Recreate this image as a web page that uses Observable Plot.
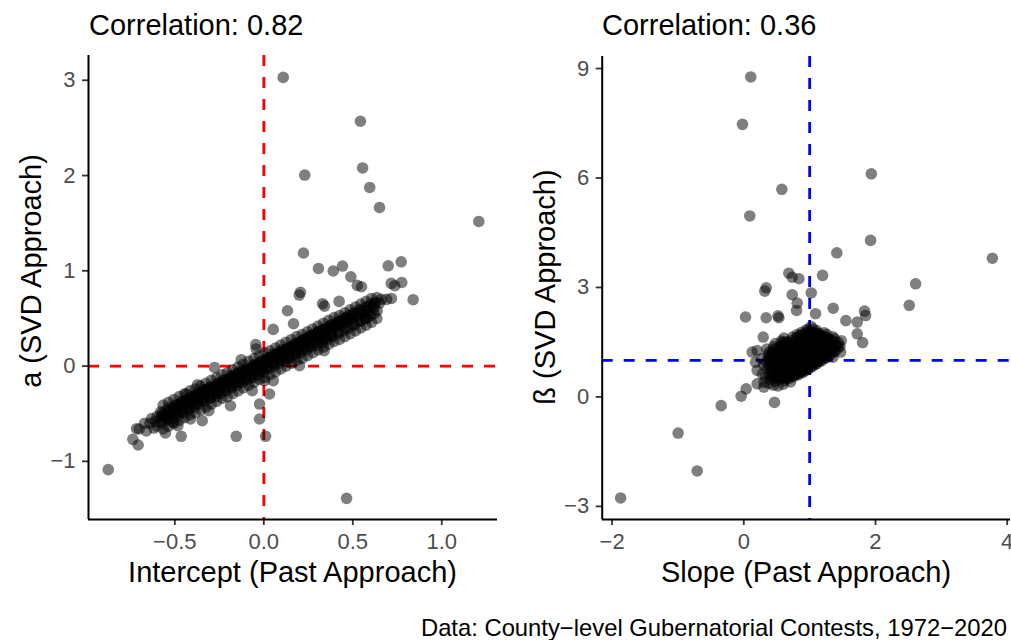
<!DOCTYPE html>
<html>
<head>
<meta charset="utf-8">
<script src="https://cdn.jsdelivr.net/npm/d3@7"></script>
<script src="https://cdn.jsdelivr.net/npm/@observablehq/plot@0.6"></script>
<style>
  html, body { margin: 0; padding: 0; background: #fff; }
  #root { position: relative; width: 1011px; height: 640px; overflow: hidden; font-family: "Liberation Sans", Arial, sans-serif; }
  .abs { position: absolute; white-space: nowrap; color: #000; line-height: 1; z-index: 5; }
  .panel { position: absolute; top: 40px; z-index: 1; }
  .panel svg { overflow: visible; }
</style>
</head>
<body>
<div id="root">
  <div class="panel" id="left" style="left:0px;"></div>
  <div class="panel" id="right" style="left:505px;"></div>
  <div class="abs" style="left:89px; top:11px; font-size:29px;">Correlation: 0.82</div>
  <div class="abs" style="left:602px; top:11px; font-size:29px;">Correlation: 0.36</div>
  <div class="abs" style="left:292.5px; top:572px; font-size:29px; transform:translate(-50%,-50%);">Intercept (Past Approach)</div>
  <div class="abs" style="left:806px; top:572px; font-size:29px; transform:translate(-50%,-50%);">Slope (Past Approach)</div>
  <div class="abs" style="left:31px; top:271px; font-size:29px; transform:translate(-50%,-50%) rotate(-90deg);">a (SVD Approach)</div>
  <div class="abs" style="left:545px; top:287px; font-size:29px; transform:translate(-50%,-50%) rotate(-90deg);">ß (SVD Approach)</div>
  <div class="abs" style="right:4px; top:616px; font-size:23.8px;">Data: County−level Gubernatorial Contests, 1972−2020</div>
</div>
<script>
// ---- tick values ----
const leftXTicks = [-0.5, 0, 0.5, 1];
const leftYTicks = [-1, 0, 1, 2, 3];
const rightXTicks = [-2, 0, 2, 4];
const rightYTicks = [-3, 0, 3, 6, 9];

// ---- reference lines ----
const leftRefX = [0], leftRefY = [0];
const rightRefX = [1], rightRefY = [1];

// ---- left panel: intercept (past) vs a (SVD) ----
const leftOutliers = [
[0.109,3.03],[0.543,2.57],[0.23,2.005],[0.555,2.08],[0.595,1.875],[0.65,1.665],[1.208,1.518],[0.223,1.187],
[0.307,1.025],[0.39,0.998],[0.442,1.05],[0.489,0.938],[0.699,1.053],[0.772,1.095],[0.525,0.847],[0.549,0.833],
[0.716,0.868],[0.775,0.878],[0.736,0.844],[0.839,0.697],[0.206,0.774],[0.199,0.746],[0.133,0.581],[0.167,0.445],
[0.053,0.385],[-0.045,0.225],[-0.043,0.18],[0.33,0.655],[0.341,0.63],[0.423,0.679],[0.571,0.494],[0.717,0.71],
[0.637,0.581],[0.612,0.623],[0.339,0.162],[0.2,0.004],[-0.277,-0.014],[-0.127,0.067],[0.004,-0.153],[0.053,-0.153],
[0.032,-0.293],[-0.065,-0.258],[-0.187,-0.416],[-0.024,-0.398],[-0.024,-0.555],[0.01,-0.737],[-0.155,-0.737],
[-0.372,-0.195],[-0.436,-0.293],[-0.346,-0.573],[-0.309,-0.468],[-0.715,-0.657],[-0.736,-0.769],[-0.706,-0.828],
[-0.618,-0.65],[-0.565,-0.52],[-0.553,-0.702],[-0.464,-0.737],[-0.483,-0.625],[-0.511,-0.59],[-0.412,-0.555],
[-0.487,-0.45],[-0.431,-0.398],[-0.874,-1.087],[0.465,-1.388]
];
const leftBand = [
[-0.70,-0.66],[-0.67,-0.60],[-0.66,-0.68],[-0.64,-0.60],[-0.63,-0.55],[-0.61,-0.58],[-0.60,-0.53],[-0.60,-0.63],
[-0.58,-0.54],[-0.57,-0.49],[-0.57,-0.60],[-0.55,-0.51],[-0.54,-0.46],[-0.54,-0.57],[-0.55,-0.54],
[-0.52,-0.48],[-0.51,-0.43],[-0.51,-0.55],[-0.52,-0.51],[-0.49,-0.46],[-0.48,-0.40],[-0.48,-0.52],[-0.49,-0.49],
[-0.46,-0.43],[-0.45,-0.37],[-0.45,-0.49],[-0.46,-0.46],[-0.47,-0.40],[-0.43,-0.40],[-0.42,-0.34],[-0.42,-0.46],[-0.43,-0.43],[-0.44,-0.37],
[-0.40,-0.37],[-0.39,-0.31],[-0.39,-0.43],[-0.40,-0.40],[-0.41,-0.34],[-0.37,-0.34],[-0.36,-0.28],[-0.36,-0.40],[-0.37,-0.37],[-0.38,-0.31],
[-0.34,-0.31],[-0.33,-0.25],[-0.33,-0.37],[-0.34,-0.34],[-0.35,-0.28],[-0.31,-0.28],[-0.30,-0.22],[-0.30,-0.34],[-0.31,-0.31],[-0.32,-0.25],
[-0.28,-0.26],[-0.27,-0.20],[-0.27,-0.32],[-0.28,-0.29],[-0.29,-0.23],[-0.25,-0.23],[-0.24,-0.17],[-0.24,-0.29],[-0.25,-0.26],[-0.26,-0.20],
[-0.22,-0.20],[-0.21,-0.14],[-0.21,-0.26],[-0.22,-0.23],[-0.23,-0.17],[-0.19,-0.17],[-0.18,-0.11],[-0.18,-0.23],[-0.19,-0.20],[-0.20,-0.14],
[-0.16,-0.14],[-0.15,-0.08],[-0.15,-0.20],[-0.16,-0.17],[-0.17,-0.11],[-0.13,-0.11],[-0.12,-0.05],[-0.12,-0.17],[-0.13,-0.14],[-0.14,-0.08],
[-0.10,-0.09],[-0.09,-0.03],[-0.09,-0.15],[-0.10,-0.12],[-0.11,-0.06],[-0.07,-0.06],[-0.06,0.00],[-0.06,-0.12],[-0.07,-0.09],[-0.08,-0.03],
[-0.04,-0.03],[-0.03,0.03],[-0.03,-0.09],[-0.04,-0.06],[-0.05,0.00],[-0.01,0.00],[0.00,0.06],[0.00,-0.06],[-0.01,-0.03],[-0.02,0.03],
[0.02,0.03],[0.03,0.09],[0.03,-0.03],[0.02,0.00],[0.01,0.06],[0.05,0.06],[0.06,0.12],[0.06,0.00],[0.05,0.03],[0.04,0.09],
[0.08,0.09],[0.09,0.15],[0.09,0.03],[0.08,0.06],[0.07,0.12],[0.11,0.11],[0.12,0.17],[0.12,0.05],[0.11,0.08],[0.10,0.15],
[0.14,0.14],[0.15,0.20],[0.15,0.08],[0.14,0.11],[0.13,0.18],[0.17,0.17],[0.18,0.23],[0.18,0.11],[0.17,0.14],[0.16,0.21],
[0.20,0.20],[0.21,0.26],[0.21,0.14],[0.20,0.17],[0.19,0.24],[0.23,0.23],[0.24,0.29],[0.24,0.17],[0.23,0.20],[0.22,0.27],
[0.26,0.26],[0.27,0.32],[0.27,0.20],[0.26,0.23],[0.25,0.30],[0.29,0.29],[0.30,0.35],[0.30,0.22],[0.29,0.26],[0.28,0.33],
[0.32,0.31],[0.33,0.38],[0.33,0.25],[0.32,0.28],[0.31,0.36],[0.35,0.34],[0.36,0.41],[0.36,0.28],[0.35,0.31],[0.34,0.39],
[0.38,0.37],[0.39,0.44],[0.39,0.31],[0.38,0.34],[0.37,0.42],[0.41,0.40],[0.42,0.47],[0.42,0.34],[0.41,0.44],
[0.44,0.43],[0.45,0.50],[0.45,0.37],[0.44,0.47],[0.47,0.46],[0.48,0.53],[0.48,0.40],[0.47,0.50],
[0.50,0.49],[0.51,0.56],[0.51,0.43],[0.50,0.53],[0.53,0.52],[0.54,0.59],[0.54,0.47],[0.56,0.55],[0.57,0.62],[0.57,0.50],
[0.59,0.58],[0.60,0.65],[0.60,0.53],[0.62,0.61],[0.63,0.67],[0.65,0.66],[0.66,0.70],[0.69,0.70]
];
const leftBandEdges = [
[-0.565,-0.41],[-0.565,-0.66],[-0.565,-0.51],[-0.535,-0.38],[-0.535,-0.63],[-0.535,-0.48],[-0.505,-0.35],[-0.505,-0.60],[-0.505,-0.45],
[-0.475,-0.32],[-0.475,-0.57],[-0.475,-0.42],[-0.445,-0.29],[-0.445,-0.54],[-0.445,-0.39],[-0.415,-0.26],[-0.415,-0.51],[-0.415,-0.36],
[-0.385,-0.24],[-0.385,-0.49],[-0.385,-0.34],[-0.355,-0.21],[-0.355,-0.46],[-0.355,-0.31],[-0.325,-0.18],[-0.325,-0.43],[-0.325,-0.28],
[-0.295,-0.15],[-0.295,-0.40],[-0.295,-0.25],[-0.265,-0.12],[-0.265,-0.37],[-0.265,-0.22],[-0.235,-0.09],[-0.235,-0.34],[-0.235,-0.19],
[-0.205,-0.07],[-0.205,-0.32],[-0.205,-0.17],[-0.175,-0.04],[-0.175,-0.29],[-0.175,-0.14],[-0.145,-0.01],[-0.145,-0.26],[-0.145,-0.11],
[-0.115,0.02],[-0.115,-0.23],[-0.115,-0.08],[-0.085,0.05],[-0.085,-0.20],[-0.085,-0.05],[-0.055,0.08],[-0.055,-0.17],[-0.055,-0.02],
[-0.025,0.11],[-0.025,-0.14],[-0.025,0.01],[0.005,0.14],[0.005,-0.12],[0.005,0.04],[0.035,0.16],[0.035,-0.09],[0.035,0.06],
[0.065,0.19],[0.065,-0.06],[0.065,0.09],[0.095,0.22],[0.095,-0.03],[0.095,0.12],[0.125,0.25],[0.125,0.00],[0.125,0.15],
[0.155,0.28],[0.155,0.03],[0.155,0.18],[0.185,0.31],[0.185,0.06],[0.185,0.21],[0.215,0.33],[0.215,0.08],[0.215,0.23],
[0.245,0.36],[0.245,0.11],[0.245,0.26],[0.275,0.39],[0.275,0.14],[0.275,0.29],[0.305,0.42],[0.305,0.17],[0.305,0.32],
[0.335,0.45],[0.335,0.20],[0.335,0.35],[0.365,0.48],[0.365,0.23],[0.365,0.38],[0.395,0.51],[0.395,0.26],[0.395,0.41],
[0.425,0.53],[0.425,0.28],[0.425,0.43],[0.455,0.56],[0.455,0.31],[0.455,0.46],[0.485,0.59],[0.485,0.34],[0.485,0.49],
[0.515,0.62],[0.515,0.37],[0.515,0.52],[0.545,0.65],[0.545,0.40],[0.545,0.55],[0.575,0.68],[0.575,0.43],[0.575,0.58],
[0.605,0.71],[0.605,0.46],[0.635,0.72],[0.635,0.50]
];
const leftBandCore = [
[-0.58,-0.59],[-0.58,-0.48],[-0.54,-0.55],[-0.54,-0.44],[-0.50,-0.52],[-0.50,-0.41],[-0.46,-0.48],[-0.46,-0.37],
[-0.42,-0.44],[-0.42,-0.33],[-0.38,-0.40],[-0.38,-0.29],[-0.34,-0.36],[-0.34,-0.25],[-0.30,-0.33],[-0.30,-0.22],
[-0.26,-0.29],[-0.26,-0.18],[-0.22,-0.25],[-0.22,-0.14],[-0.18,-0.21],[-0.18,-0.10],[-0.14,-0.17],[-0.14,-0.06],
[-0.10,-0.14],[-0.10,-0.03],[-0.06,-0.10],[-0.06,0.01],[-0.02,-0.06],[-0.02,0.05],[0.02,-0.02],[0.02,0.09],
[0.06,0.02],[0.06,0.13],[0.10,0.06],[0.10,0.17],[0.14,0.09],[0.14,0.20],[0.18,0.13],[0.18,0.24],
[0.22,0.17],[0.22,0.28],[0.26,0.21],[0.26,0.32],[0.30,0.25],[0.30,0.36],[0.34,0.28],[0.34,0.39],
[0.38,0.32],[0.38,0.43],[0.42,0.36],[0.42,0.47],[0.46,0.40],[0.46,0.51],[0.50,0.44],[0.50,0.55],
[0.54,0.47],[0.54,0.58],[0.58,0.51],[0.58,0.62],[0.62,0.55],[0.62,0.66]
];

// ---- right panel: slope (past) vs ß (SVD) ----
const rightOutliers = [
[0.106,8.77],[-0.02,7.47],[1.936,6.115],[0.578,5.69],[0.091,4.96],[1.925,4.29],[1.413,3.95],[3.775,3.80],
[0.684,3.39],[0.735,3.28],[0.836,3.24],[1.196,3.33],[2.609,3.10],[2.513,2.51],[0.34,2.99],[0.319,2.90],
[0.735,2.80],[1.024,2.85],[0.811,2.57],[0.801,2.37],[1.09,2.28],[1.358,2.43],[1.834,2.35],[1.85,2.23],
[0.026,2.19],[0.34,2.17],[0.52,2.22],[0.532,2.17],[1.55,2.09],[1.723,2.05],[1.804,1.49],[1.723,1.73],
[0.295,1.64],[0.127,1.23],[0.203,1.27],[0.178,0.95],[0.203,0.73],[0.203,0.36],[0.036,0.22],[-0.04,0.02],
[-0.343,-0.24],[-0.997,-0.99],[0.466,-0.15],[0.304,0.27],[0.71,0.41],[1.47,1.23],[1.353,1.09],
[-0.708,-2.03],[-1.87,-2.77]
];
const rightCluster = [
[0.33,0.55],[0.36,0.78],[0.34,0.96],[0.37,1.14],[0.35,1.31],
[0.41,0.48],[0.43,0.66],[0.40,0.86],[0.44,1.03],[0.42,1.21],[0.45,1.37],
[0.48,0.43],[0.50,0.61],[0.47,0.77],[0.51,0.93],[0.49,1.09],[0.52,1.24],[0.48,1.46],
[0.55,0.49],[0.57,0.59],[0.54,0.73],[0.58,0.86],[0.56,0.99],[0.59,1.13],[0.55,1.29],[0.57,1.53],
[0.62,0.44],[0.64,0.57],[0.61,0.71],[0.65,0.81],[0.63,0.96],[0.66,1.07],[0.62,1.23],[0.64,1.41],[0.61,1.61],
[0.69,0.51],[0.71,0.63],[0.68,0.74],[0.72,0.89],[0.70,1.01],[0.73,1.15],[0.69,1.27],[0.71,1.46],[0.74,1.64],
[0.76,0.56],[0.78,0.67],[0.75,0.81],[0.79,0.93],[0.77,1.04],[0.80,1.19],[0.76,1.34],[0.78,1.49],[0.81,1.71],
[0.83,0.61],[0.85,0.75],[0.82,0.87],[0.86,0.97],[0.84,1.11],[0.87,1.23],[0.83,1.39],[0.85,1.56],[0.88,1.77],
[0.90,0.67],[0.92,0.79],[0.89,0.94],[0.93,1.06],[0.91,1.17],[0.94,1.33],[0.90,1.47],[0.92,1.66],[0.95,1.84],
[0.97,0.75],[0.99,0.87],[0.96,1.01],[1.00,1.13],[0.98,1.29],[1.01,1.41],[0.97,1.59],[0.99,1.74],[1.02,1.93],
[1.04,0.83],[1.06,0.97],[1.03,1.09],[1.07,1.25],[1.05,1.37],[1.08,1.53],[1.04,1.67],[1.06,1.86],
[1.11,0.91],[1.13,1.04],[1.10,1.21],[1.14,1.34],[1.12,1.51],[1.15,1.64],[1.11,1.81],
[1.18,0.99],[1.20,1.15],[1.17,1.29],[1.21,1.46],[1.19,1.59],[1.22,1.76],
[1.25,1.07],[1.27,1.21],[1.24,1.39],[1.28,1.53],[1.26,1.71],
[1.32,1.16],[1.34,1.33],[1.31,1.47],[1.35,1.65],
[1.39,1.26],[1.41,1.41],[1.38,1.59],
[1.46,1.39],[1.48,1.54],
[0.28,0.62],[0.30,0.88],[0.27,1.05],[0.31,0.40],[0.38,0.37],[0.45,0.32],[0.60,0.35],[0.52,0.30]
];
const rightClusterInner = [
[0.385,0.62],[0.385,0.85],[0.385,1.05],[0.385,1.22],
[0.455,0.55],[0.455,0.72],[0.455,0.90],[0.455,1.12],[0.455,1.30],
[0.525,0.52],[0.525,0.68],[0.525,0.85],[0.525,1.01],[0.525,1.17],[0.525,1.36],
[0.595,0.52],[0.595,0.65],[0.595,0.78],[0.595,0.92],[0.595,1.05],[0.595,1.19],[0.595,1.34],[0.595,1.50],
[0.665,0.55],[0.665,0.66],[0.665,0.78],[0.665,0.90],[0.665,1.04],[0.665,1.17],[0.665,1.32],[0.665,1.52],
[0.735,0.58],[0.735,0.70],[0.735,0.84],[0.735,0.96],[0.735,1.08],[0.735,1.21],[0.735,1.37],[0.735,1.55],
[0.805,0.62],[0.805,0.74],[0.805,0.88],[0.805,1.00],[0.805,1.13],[0.805,1.27],[0.805,1.42],[0.805,1.62],
[0.875,0.68],[0.875,0.82],[0.875,0.95],[0.875,1.08],[0.875,1.20],[0.875,1.35],[0.875,1.52],[0.875,1.70],
[0.945,0.74],[0.945,0.88],[0.945,1.00],[0.945,1.12],[0.945,1.25],[0.945,1.40],[0.945,1.56],[0.945,1.75],
[1.015,0.82],[1.015,0.95],[1.015,1.07],[1.015,1.20],[1.015,1.33],[1.015,1.48],[1.015,1.64],[1.015,1.80],
[1.085,0.90],[1.085,1.02],[1.085,1.15],[1.085,1.30],[1.085,1.45],[1.085,1.60],[1.085,1.76],
[1.155,0.98],[1.155,1.10],[1.155,1.25],[1.155,1.40],[1.155,1.56],[1.155,1.72],
[1.225,1.06],[1.225,1.20],[1.225,1.35],[1.225,1.50],[1.225,1.65],
[1.295,1.14],[1.295,1.28],[1.295,1.43],[1.295,1.58],
[1.365,1.24],[1.365,1.38],[1.365,1.52],
[1.435,1.34],[1.435,1.48]
];
const rightClusterCore = [
[0.42,0.58],[0.42,0.76],[0.42,0.95],[0.42,1.12],
[0.49,0.52],[0.49,0.70],[0.49,0.86],[0.49,1.00],[0.49,1.16],
[0.56,0.55],[0.56,0.66],[0.56,0.80],[0.56,0.93],[0.56,1.06],[0.56,1.22],[0.56,1.40],
[0.63,0.50],[0.63,0.63],[0.63,0.76],[0.63,0.88],[0.63,1.01],[0.63,1.15],[0.63,1.30],[0.63,1.48],
[0.70,0.56],[0.70,0.69],[0.70,0.81],[0.70,0.94],[0.70,1.07],[0.70,1.21],[0.70,1.36],
[0.77,0.62],[0.77,0.74],[0.77,0.86],[0.77,0.99],[0.77,1.11],[0.77,1.25],[0.77,1.41],
[0.84,0.67],[0.84,0.80],[0.84,0.92],[0.84,1.04],[0.84,1.17],[0.84,1.31],[0.84,1.47],[0.84,1.66],
[0.91,0.73],[0.91,0.86],[0.91,0.99],[0.91,1.11],[0.91,1.24],[0.91,1.39],[0.91,1.56],
[0.98,0.81],[0.98,0.94],[0.98,1.07],[0.98,1.20],[0.98,1.35],[0.98,1.50],[0.98,1.66],[0.98,1.83],
[1.05,0.89],[1.05,1.03],[1.05,1.17],[1.05,1.31],[1.05,1.45],[1.05,1.60],[1.05,1.76],
[1.12,0.97],[1.12,1.12],[1.12,1.27],[1.12,1.42],[1.12,1.57],[1.12,1.72],
[1.19,1.06],[1.19,1.21],[1.19,1.37],[1.19,1.52],[1.19,1.67],
[1.26,1.14],[1.26,1.30],[1.26,1.46],[1.26,1.61],
[1.33,1.24],[1.33,1.40],[1.33,1.56]
];

const MINUS = "\u2212";
const fmt = (digits) => (d) => (d < 0 ? MINUS : "") + Math.abs(d).toFixed(digits);

function panel({points, xDomain, yDomain, xTicks, yTicks, xDigits, refX, refY, refColor, width, marginLeft, marginRight, marginTop}) {
  const height = 520;
  const marginBottom = 41;
  const axisCommon = {tickSize: 6, strokeWidth: 1.8, stroke: "#333333", fill: "#4d4d4d", fontSize: 22, label: null};
  return Plot.plot({
    width, height, marginLeft, marginRight, marginTop, marginBottom,
    style: {fontFamily: "'Liberation Sans', Arial, sans-serif", background: "transparent", overflow: "visible"},
    x: {domain: xDomain},
    y: {domain: yDomain},
    marks: [
      Plot.ruleX(refX, {stroke: refColor, strokeWidth: 2.8, strokeDasharray: "11,11"}),
      Plot.ruleY(refY, {stroke: refColor, strokeWidth: 2.8, strokeDasharray: "11,11"}),
      Plot.dot(points, {x: d => d[0], y: d => d[1], r: 5.8, fill: "black", fillOpacity: 0.5}),
      Plot.axisX({...axisCommon, ticks: xTicks, tickFormat: fmt(xDigits), tickPadding: 8}),
      Plot.axisY({...axisCommon, ticks: yTicks, tickFormat: fmt(0), tickPadding: 7}),
      Plot.ruleY([yDomain[0]], {stroke: "black", strokeWidth: 2}),
      Plot.ruleX([xDomain[0]], {stroke: "black", strokeWidth: 2})
    ]
  });
}

document.getElementById("left").appendChild(panel({
  points: leftBand.concat(leftBandEdges, leftBandCore, leftOutliers),
  xDomain: [-0.985, 1.313], yDomain: [-1.61, 3.26],
  xTicks: leftXTicks, yTicks: leftYTicks, xDigits: 1,
  refX: leftRefX, refY: leftRefY, refColor: "#FF0000",
  width: 505, marginLeft: 88, marginRight: 8, marginTop: 15
}));
document.getElementById("right").appendChild(panel({
  points: rightCluster.concat(rightClusterInner, rightClusterCore, rightOutliers),
  xDomain: [-2.15, 4.05], yDomain: [-3.36, 9.33],
  xTicks: rightXTicks, yTicks: rightYTicks, xDigits: 0,
  refX: rightRefX, refY: rightRefY, refColor: "#0000FF",
  width: 506, marginLeft: 96.7, marginRight: 1, marginTop: 16
}));
</script>
</body>
</html>
